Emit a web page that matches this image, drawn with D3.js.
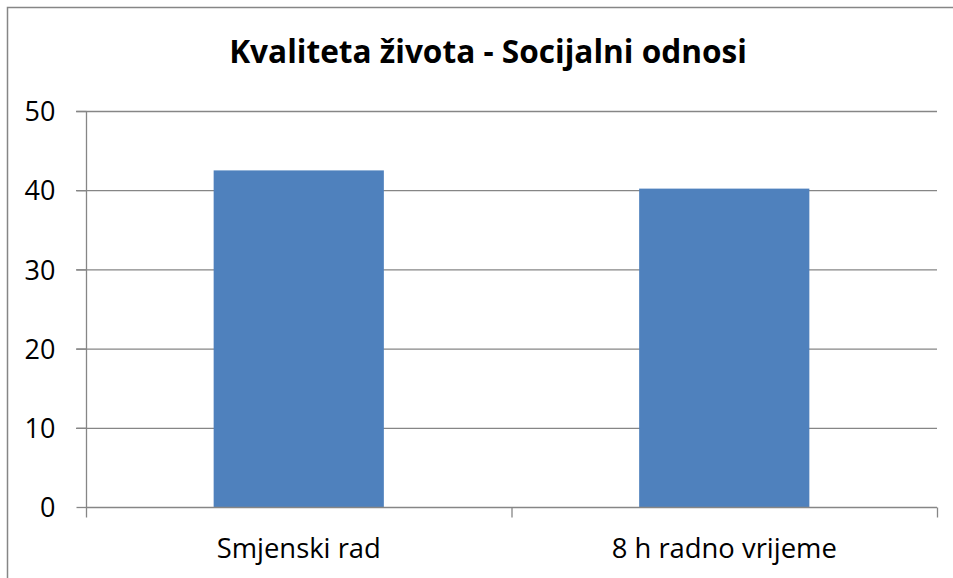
<!DOCTYPE html>
<html>
<head>
<meta charset="utf-8">
<script src="https://cdn.jsdelivr.net/npm/d3@7"></script>
<style>
  body { margin: 0; background: #fff; }
  svg { display: block; }
  text { font-family: "Open Sans", "Lato", sans-serif; fill: #000; }
</style>
</head>
<body>
<svg></svg>
<script>
const categories = ["Smjenski rad", "8 h radno vrijeme"];
const values = [42.5, 40.2];
const y_ticks = [0, 10, 20, 30, 40, 50];
const title = "Kvaliteta života - Socijalni odnosi";

const W = 953, H = 578;
const margin = { top: 111, right: 16, bottom: 71, left: 86 };
const width = W - margin.left - margin.right;
const height = H - margin.top - margin.bottom;
const grey = "#868686";

const root = d3.select("svg").attr("width", W).attr("height", H);

// shrink/grow a label until it is about as wide as in the original
function fit(sel, target) {
    const size = parseFloat(sel.style("font-size"));
    const len = sel.node().getComputedTextLength();
    sel.style("font-size", (size * target / len).toFixed(1) + "px");
}

// outer chart frame (runs off the bottom/right edge like the original)
root.append("rect")
    .attr("x", 7.5).attr("y", 7.5)
    .attr("width", W).attr("height", H)
    .attr("fill", "none")
    .attr("stroke", grey)
    .attr("stroke-width", 1.5);

const title_text = root.append("text")
    .attr("x", 488).attr("y", 63)
    .attr("text-anchor", "middle")
    .style("font-weight", "bold")
    .style("font-size", "26px")
    .text(title);
fit(title_text, 518);

const svg = root.append("g")
    .attr("transform", "translate(" + margin.left + "," + margin.top + ")");

const x = d3.scaleBand().domain(categories).range([0, width]).paddingInner(0.6).paddingOuter(0.3);
const x_edges = d3.scaleBand().domain(categories).range([0, width]);
const y = d3.scaleLinear().domain([0, 50]).range([height, 0]);

// gridlines
svg.selectAll("line.grid")
    .data(y_ticks.filter(d => d > 0))
    .enter()
    .append("line")
    .attr("class", "grid")
    .attr("x1", -10).attr("x2", width)
    .attr("y1", d => y(d) + 0.5).attr("y2", d => y(d) + 0.5)
    .attr("stroke", grey)
    .attr("stroke-width", 1.3);

// bars
svg.selectAll("rect.bar")
    .data(values)
    .enter()
    .append("rect")
    .attr("class", "bar")
    .attr("x", (d, i) => x(categories[i]))
    .attr("width", x.bandwidth())
    .attr("y", d => y(d))
    .attr("height", d => y(0) - y(d))
    .attr("fill", "#4f81bd");

// y axis
const y_axis = svg.append("g")
    .attr("transform", "translate(0.5,0)")
    .call(d3.axisLeft(y).tickValues(y_ticks).tickSize(10).tickPadding(21).tickFormat(d3.format("d")));
y_axis.selectAll("line, path").attr("stroke", grey).attr("stroke-width", 1.3);
y_axis.select(".domain").attr("d", "M0," + y(50) + "V" + y(0));
y_axis.selectAll("text").style("font-size", "27px").attr("fill", "#000").attr("dy", "0.36em");

// x axis with ticks at category boundaries
const x_axis = svg.append("g").attr("transform", "translate(0," + (y(0) + 0.5) + ")");
x_axis.append("line")
    .attr("x1", 0).attr("x2", width)
    .attr("stroke", grey).attr("stroke-width", 1.3);
x_axis.selectAll("line.tick")
    .data([0, 1, 2])
    .enter()
    .append("line")
    .attr("class", "tick")
    .attr("x1", d => d * x_edges.step() + 0.5)
    .attr("x2", d => d * x_edges.step() + 0.5)
    .attr("y1", 0).attr("y2", 10)
    .attr("stroke", grey).attr("stroke-width", 1.3);
const x_labels = x_axis.selectAll("text")
    .data(categories)
    .enter()
    .append("text")
    .attr("x", d => x(d) + x.bandwidth() / 2)
    .attr("y", 50)
    .attr("text-anchor", "middle")
    .style("font-size", "24px")
    .text(d => d);
fit(d3.select(x_labels.nodes()[0]), 164);
x_labels.style("font-size", d3.select(x_labels.nodes()[0]).style("font-size"));
</script>
</body>
</html>
